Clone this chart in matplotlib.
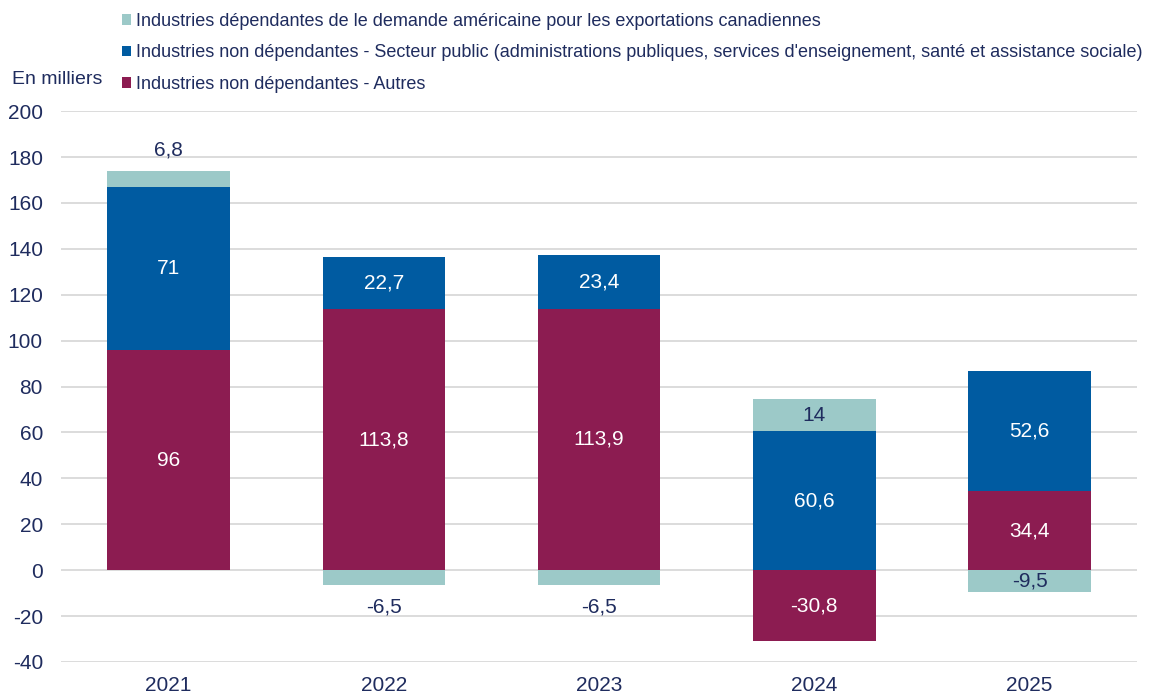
import matplotlib
matplotlib.use("Agg")
import matplotlib.pyplot as plt
import numpy as np

years = ["2021", "2022", "2023", "2024", "2025"]
autres = [96, 113.8, 113.9, -30.8, 34.4]
public = [71, 22.7, 23.4, 60.6, 52.6]
export = [6.8, -6.5, -6.5, 14, -9.5]

labels = [
    "Industries dépendantes de le demande américaine pour les exportations canadiennes",
    "Industries non dépendantes - Secteur public (administrations publiques, services d'enseignement, santé et assistance sociale)",
    "Industries non dépendantes - Autres",
]
colors = {"export": "#9CC9C8", "public": "#005BA1", "autres": "#8C1C51"}
navy = "#1F2C5E"

plt.rcParams["font.family"] = ["Liberation Sans", "DejaVu Sans"]
plt.rcParams["axes.unicode_minus"] = False

fig = plt.figure(figsize=(11.51, 6.95), dpi=100)
ax = fig.add_axes([0.053, 0.0475, 0.935, 0.7925])

x = np.arange(len(years))
w = 0.57
fs = 15
pos_base = np.zeros(len(years))
neg_base = np.zeros(len(years))
handles = {}
series = [("autres", autres), ("public", public), ("export", export)]
for name, vals in series:
    vals = np.array(vals, dtype=float)
    bottoms = np.where(vals >= 0, pos_base, neg_base)
    bars = ax.bar(x, vals, w, bottom=bottoms, color=colors[name], zorder=3, linewidth=0)
    handles[name] = bars
    for xi, v, b in zip(x, vals, bottoms):
        txt = f"{v:g}".replace(".", ",")
        if name == "export":
            if abs(v) < 8:
                off = 15 if v >= 0 else -16
                ax.annotate(txt, (xi, b + v), xytext=(0, off), textcoords="offset points",
                            ha="center", va="center", color=navy, fontsize=fs)
            else:
                ax.text(xi, b + v / 2, txt, ha="center", va="center", color=navy, fontsize=fs, zorder=4)
        else:
            ax.text(xi, b + v / 2, txt, ha="center", va="center", color="white", fontsize=fs, zorder=4)
    pos_base = pos_base + np.where(vals >= 0, vals, 0)
    neg_base = neg_base + np.where(vals < 0, vals, 0)

ax.set_ylim(-40, 200)
ax.set_yticks(np.arange(-40, 201, 20))
ax.set_xlim(-0.5, len(years) - 0.5)
ax.set_xticks(x)
ax.set_xticklabels(years)
ax.grid(axis="y", color="#D9D9D9", linewidth=1.3, zorder=0)
ax.tick_params(axis="both", length=0, labelsize=fs, colors=navy)
ax.tick_params(axis="y", pad=13)
ax.tick_params(axis="x", pad=10)
for s in ax.spines.values():
    s.set_visible(False)

fig.text(12 / 1151, 1 - 80 / 695, "En milliers", fontsize=14, color=navy, va="center", ha="left")

leg = fig.legend([handles["export"], handles["public"], handles["autres"]], labels,
                 loc="upper left", bbox_to_anchor=(122 / 1151, 1 - 13 / 695),
                 frameon=False, fontsize=13, labelcolor=navy,
                 handlelength=0.5, handleheight=0.5, handletextpad=0.3,
                 labelspacing=0.8, borderaxespad=0, borderpad=0)

fig.savefig("out.png", dpi=100)
